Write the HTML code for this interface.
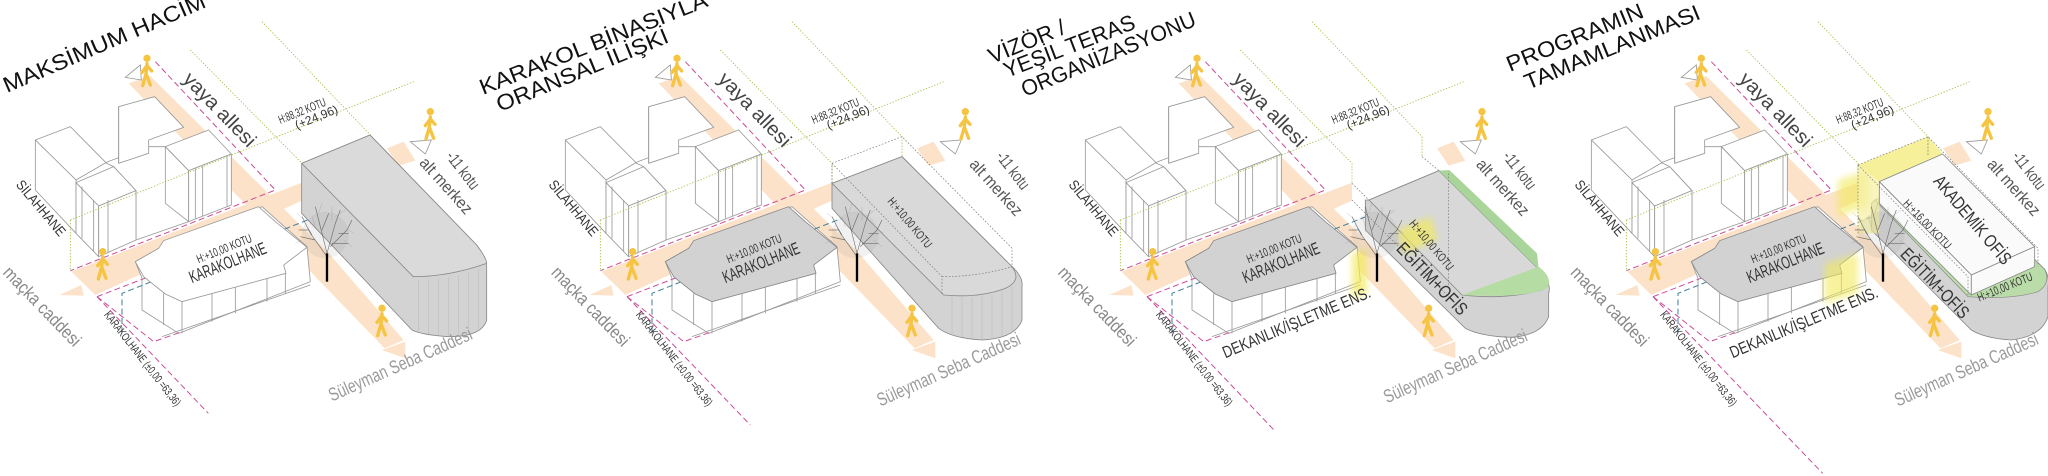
<!DOCTYPE html>
<html><head><meta charset="utf-8"><style>
html,body{margin:0;padding:0;background:#fff;}
svg{display:block;}
text{font-family:"Liberation Sans",sans-serif;}
</style></head><body>
<svg width="2048" height="476" viewBox="0 0 2048 476" xmlns="http://www.w3.org/2000/svg">
<defs>
<filter id="blur" x="-50%" y="-50%" width="200%" height="200%"><feGaussianBlur stdDeviation="10"/></filter>
<g id="ped" stroke="#f5c443" stroke-width="10" stroke-linecap="round" fill="none">
  <circle cx="0" cy="10" r="11" fill="#f5c443" stroke="none"/>
  <path d="M0,26 L-3,56 M-3,56 L-13,92 M-3,56 L10,90 M0,32 L-15,52 M0,32 L14,48"/>
</g>
<g id="tree">
  <circle cx="1030" cy="705" r="70" fill="#888" opacity="0.12"/>
  <g stroke="#444" stroke-width="2" fill="none" opacity="0.7">
    <path d="M1035,770 L985,700 L960,650 M1000,720 L955,710 M1035,760 L1010,660 L1000,620 M1035,760 L1060,670 L1075,630 M1045,740 L1095,690 L1110,660 M1050,730 L1100,730 M990,705 L975,680 M1020,690 L1040,640 M1070,700 L1100,700 M980,690 L950,690"/>
  </g>
  <g stroke="#777" stroke-width="1.2" fill="none" opacity="0.5">
    <path d="M970,660 L945,640 M1010,640 L1020,610 M1060,650 L1090,630 M1100,690 L1115,700 M960,720 L940,730 M1085,720 L1110,740 M1000,680 L990,650 M1050,660 L1050,620"/>
  </g>
  <path d="M1035,845 L1035,760" stroke="#000" stroke-width="7"/>
</g>
<g id="base">
  <!-- peach bands -->
  <g fill="#fce2c9">
    <polygon points="440,250 505,228 1045,765 1265,1020 1208,1045"/>
    <polygon points="268,815 960,548 960,602 340,885"/>
    <polygon points="1215,445 1265,425 1300,482 1250,497"/>
    <polygon points="232,885 298,855 305,887"/>
    <polygon points="1200,1050 1270,1025 1270,1075"/>
  </g>
  <polygon points="430,232 475,195 478,240" fill="#fff" stroke="#999" stroke-width="2.5"/>
  <polygon points="1285,425 1348,420 1330,462" fill="#fff" stroke="#999" stroke-width="2.5"/>
  <!-- silahhane complex -->
  <g fill="#fff" stroke="#999" stroke-width="2.5" stroke-linejoin="round">
    <polygon points="370,488 498,440 550,440 620,512 620,665 462,720 462,572 395,500"/>
    <polygon points="410,320 518,290 605,382 500,420 500,460 410,490"/>
    <polygon points="160,420 265,380 372,488 282,540"/>
    <polygon points="160,420 282,540 282,700 160,570"/>
    <polygon points="282,548 395,500 462,572 350,618"/>
    <polygon points="282,548 350,618 350,770 282,700"/>
    <polygon points="350,618 462,572 462,720 350,770"/>
    <polygon points="550,440 680,390 748,462 620,512"/>
    <polygon points="550,440 620,512 620,665 550,610"/>
    <polygon points="620,512 748,462 748,615 620,665"/>
    <path d="M300,560 L300,715 M335,600 L335,755 M378,600 L378,760 M640,505 L640,655 M662,498 L662,648 M735,468 L735,620 M410,490 L410,320" fill="none"/>
  </g>
  <!-- karakolhane body -->
  <g fill="#fff" stroke="#999" stroke-width="2.5" stroke-linejoin="round">
    <polygon points="460,785 530,745 840,620 975,740 985,845 590,1000 480,930 480,835"/>
    <path d="M545,880 L545,975 M600,905 L600,1000 M690,875 L690,965 M760,848 L760,940 M855,812 L855,905 M910,820 L910,880 M540,1010 L985,855" fill="none"/>
  </g>
  <!-- dashed lines -->
  <g fill="none" stroke="#c94d96" stroke-width="3" stroke-dasharray="18,10">
    <path d="M520,185 L880,570 L265,812"/>
    <path d="M345,890 L540,815 M345,890 L515,1025 L600,995"/>
  </g>
  <path d="M420,1000 L420,880 L1040,635" fill="none" stroke="#3f7f9c" stroke-width="3" stroke-dasharray="18,10"/>
  <g fill="none" stroke="#9cc03f" stroke-width="2.5" stroke-dasharray="4,5">
    <path d="M625,150 L960,490 L960,550 M840,65 L1170,410 L1170,470 M265,660 L1295,245 M265,660 L265,810"/>
  </g>
</g>
</defs>

<!-- Titles -->
<g fill="#111" font-size="22">
  <text transform="translate(7,93) rotate(-23.3)" textLength="218" lengthAdjust="spacingAndGlyphs">MAKSİMUM HACİM</text>
  <text transform="translate(483,95) rotate(-21.5)" textLength="243" lengthAdjust="spacingAndGlyphs">KARAKOL BİNASIYLA</text>
  <text transform="translate(500,112) rotate(-22.4)" textLength="184" lengthAdjust="spacingAndGlyphs">ORANSAL İLİŞKİ</text>
  <text transform="translate(992,64) rotate(-22.5)" textLength="81" lengthAdjust="spacingAndGlyphs">VİZÖR /</text>
  <text transform="translate(1007,78) rotate(-21)" textLength="139" lengthAdjust="spacingAndGlyphs">YEŞİL TERAS</text>
  <text transform="translate(1025,97) rotate(-22.6)" textLength="187" lengthAdjust="spacingAndGlyphs">ORGANİZASYONU</text>
  <text transform="translate(1510,72) rotate(-22.2)" textLength="146" lengthAdjust="spacingAndGlyphs">PROGRAMIN</text>
  <text transform="translate(1528,90) rotate(-22.4)" textLength="188" lengthAdjust="spacingAndGlyphs">TAMAMLANMASI</text>
</g>

<!-- PANEL 1 -->
<g transform="translate(-18,0) scale(0.33333)">
  <use href="#base"/>
  <polygon points="460,785 530,745 545,722 830,620 880,665 975,742 905,795 912,820 600,905 550,882 485,830" fill="#fff" stroke="#999" stroke-width="2.5"/>
  <path d="M345,890 L679,1240" fill="none" stroke="#c94d96" stroke-width="3" stroke-dasharray="18,10"/>
  <path d="M959,490 L1164,405 L1484,735 Q1514,775 1514,800 L1514,960 Q1500,1010 1400,1010 Q1320,1005 1290,990 L959,640 Z" fill="#d3d3d3" stroke="#888" stroke-width="2.5"/>
  <path d="M959,490 L1164,405 L1484,735 Q1514,775 1514,790 Q1400,830 1294,830 Z" fill="#dadada" stroke="#888" stroke-width="2.5"/>
  <g stroke="#bbb" stroke-width="1.5"><path d="M1310,840 L1310,995 M1340,838 L1340,1002 M1370,836 L1370,1006 M1400,832 L1400,1008 M1430,826 L1430,1006 M1460,818 L1460,1000 M1490,806 L1490,985"/></g>
  <use href="#tree"/>
  <use href="#ped" x="495" y="165"/><use href="#ped" x="362" y="745"/><use href="#ped" x="1200" y="915"/><use href="#ped" x="1345" y="325"/>
  <g fill="#333">
    <text transform="translate(600,240) rotate(46)" font-size="60" fill="#444" textLength="285" lengthAdjust="spacingAndGlyphs">yaya allesi</text>
    <text transform="translate(895,372) rotate(-22)" font-size="36" textLength="150" lengthAdjust="spacingAndGlyphs">H:88,32 KOTU</text>
    <text transform="translate(945,388) rotate(-22)" font-size="36">(+24,96)</text>
    <text transform="translate(100,555) rotate(50)" font-size="42" textLength="205" lengthAdjust="spacingAndGlyphs">SİLAHHANE</text>
    <text transform="translate(60,820) rotate(46)" font-size="54" fill="#888" textLength="310" lengthAdjust="spacingAndGlyphs">maçka caddesi</text>
    <text transform="translate(650,790) rotate(-22)" font-size="36" textLength="175" lengthAdjust="spacingAndGlyphs">H:+10,00 KOTU</text>
    <text transform="translate(630,850) rotate(-22)" font-size="52" textLength="245" lengthAdjust="spacingAndGlyphs">KARAKOLHANE</text>
    <text transform="translate(365,945) rotate(52)" font-size="34" textLength="350" lengthAdjust="spacingAndGlyphs">KARAKOLHANE (±0,00 =63,36)</text>
    <text transform="translate(1050,1205) rotate(-24)" font-size="56" fill="#9a9a9a" textLength="465" lengthAdjust="spacingAndGlyphs">Süleyman Seba Caddesi</text>
    <text transform="translate(1390,470) rotate(52)" font-size="50" fill="#555" textLength="130" lengthAdjust="spacingAndGlyphs">-11 kotu</text>
    <text transform="translate(1310,490) rotate(48)" font-size="50" fill="#555" textLength="210" lengthAdjust="spacingAndGlyphs">alt merkez</text>
  </g>
</g>

<!-- PANEL 2 -->
<g transform="translate(512,0) scale(0.33333)">
  <use href="#base"/>
  <polygon points="460,785 530,745 545,722 830,620 880,665 975,742 905,795 912,820 600,905 550,882 485,830" fill="#d2d2d2" stroke="#888" stroke-width="2.5"/>
  <path d="M345,890 L715,1275" fill="none" stroke="#c94d96" stroke-width="3" stroke-dasharray="18,10"/>
  <path d="M960,550 L1170,470 L1495,795 Q1535,830 1530,860 L1530,960 Q1510,1015 1410,1020 Q1320,1015 1280,985 L960,625 Z" fill="#d3d3d3" stroke="#888" stroke-width="2.5"/>
  <path d="M960,550 L1170,470 L1495,795 Q1535,840 1480,865 Q1400,895 1295,885 Z" fill="#d9d9d9" stroke="#888" stroke-width="2.5"/>
  <g stroke="#bbb" stroke-width="1.5"><path d="M1320,890 L1320,1005 M1350,892 L1350,1012 M1380,892 L1380,1016 M1410,890 L1410,1018 M1440,885 L1440,1016 M1470,875 L1470,1010 M1500,860 L1500,1000"/></g>
  <g fill="none" stroke="#777" stroke-width="2" stroke-dasharray="5,5">
    <path d="M960,550 L960,490 L1170,410 L1500,745 L1500,800 M960,490 L1290,830 L1290,885 M1290,830 Q1400,830 1500,800"/>
  </g>
  <use href="#tree"/>
  <use href="#ped" x="495" y="165"/><use href="#ped" x="362" y="745"/><use href="#ped" x="1200" y="915"/><use href="#ped" x="1360" y="325"/>
  <g fill="#333">
    <text transform="translate(1125,605) rotate(50)" font-size="36" textLength="185" lengthAdjust="spacingAndGlyphs">H:+10,00 KOTU</text>
    <text transform="translate(615,240) rotate(46)" font-size="60" fill="#444" textLength="285" lengthAdjust="spacingAndGlyphs">yaya allesi</text>
    <text transform="translate(905,372) rotate(-22)" font-size="36" textLength="150" lengthAdjust="spacingAndGlyphs">H:88,32 KOTU</text>
    <text transform="translate(950,388) rotate(-22)" font-size="36">(+24,96)</text>
    <text transform="translate(108,555) rotate(50)" font-size="42" textLength="205" lengthAdjust="spacingAndGlyphs">SİLAHHANE</text>
    <text transform="translate(115,820) rotate(46)" font-size="54" fill="#888" textLength="310" lengthAdjust="spacingAndGlyphs">maçka caddesi</text>
    <text transform="translate(650,790) rotate(-22)" font-size="36" textLength="175" lengthAdjust="spacingAndGlyphs">H:+10,00 KOTU</text>
    <text transform="translate(640,850) rotate(-22)" font-size="52" textLength="245" lengthAdjust="spacingAndGlyphs">KARAKOLHANE</text>
    <text transform="translate(370,945) rotate(52)" font-size="34" textLength="350" lengthAdjust="spacingAndGlyphs">KARAKOLHANE (±0,00 =63,36)</text>
    <text transform="translate(1105,1220) rotate(-24)" font-size="56" fill="#9a9a9a" textLength="465" lengthAdjust="spacingAndGlyphs">Süleyman Seba Caddesi</text>
    <text transform="translate(1450,470) rotate(52)" font-size="50" fill="#555" textLength="130" lengthAdjust="spacingAndGlyphs">-11 kotu</text>
    <text transform="translate(1370,495) rotate(48)" font-size="50" fill="#555" textLength="210" lengthAdjust="spacingAndGlyphs">alt merkez</text>
  </g>
</g>

<!-- PANEL 3 -->
<g transform="translate(1032,0) scale(0.33333)">
  <use href="#base"/>
  <polygon points="460,785 530,745 545,722 830,620 880,665 975,742 905,795 912,820 600,905 550,882 485,830" fill="#d2d2d2" stroke="#888" stroke-width="2.5"/>
  <path d="M345,890 L726,1290" fill="none" stroke="#c94d96" stroke-width="3" stroke-dasharray="18,10"/>
  <path d="M1011,600 L1221,512 L1520,808 Q1560,850 1550,880 L1550,950 Q1530,1005 1440,1012 Q1350,1010 1300,985 L1000,690 L1000,600 Z" fill="#d3d3d3" stroke="#888" stroke-width="2.5"/>
  <path d="M1011,600 L1221,512 L1520,808 Q1560,850 1530,870 Q1420,900 1290,885 Z" fill="#d8d8d8" stroke="#888" stroke-width="2.5"/>
  <polygon points="1221,512 1252,510 1515,760 1520,808" fill="#a9d59a"/>
  <path d="M1290,885 L1520,800 Q1565,835 1545,865 Q1480,895 1290,885 Z" fill="#b5dca3"/>
  <g fill="none" stroke="#777" stroke-width="2" stroke-dasharray="5,5">
    <path d="M960,550 L1011,600 M1170,470 L1221,512 M1250,520 L1250,870 M960,600 L1290,930"/>
  </g>
  <g filter="url(#blur)" fill="#f2ea5a" opacity="0.7">
    <polygon points="1096,690 1196,650 1216,720 1116,760"/>
    <polygon points="960,760 1005,745 1005,880 960,895"/>
  </g>
  <use href="#tree"/>
  <use href="#ped" x="495" y="165"/><use href="#ped" x="362" y="745"/><use href="#ped" x="1190" y="915"/><use href="#ped" x="1350" y="325"/>
  <g fill="#333">
    <text transform="translate(1130,672) rotate(50)" font-size="36" textLength="185" lengthAdjust="spacingAndGlyphs">H:+10,00 KOTU</text>
    <text transform="translate(1090,748) rotate(46)" font-size="54" textLength="280" lengthAdjust="spacingAndGlyphs">EĞİTİM+OFİS</text>
    <text transform="translate(580,1075) rotate(-22.8)" font-size="50" textLength="477" lengthAdjust="spacingAndGlyphs">DEKANLIK/İŞLETME ENS.</text>
    <text transform="translate(600,240) rotate(46)" font-size="60" fill="#444" textLength="285" lengthAdjust="spacingAndGlyphs">yaya allesi</text>
    <text transform="translate(905,372) rotate(-22)" font-size="36" textLength="150" lengthAdjust="spacingAndGlyphs">H:88,32 KOTU</text>
    <text transform="translate(950,388) rotate(-22)" font-size="36">(+24,96)</text>
    <text transform="translate(108,555) rotate(50)" font-size="42" textLength="205" lengthAdjust="spacingAndGlyphs">SİLAHHANE</text>
    <text transform="translate(75,820) rotate(46)" font-size="54" fill="#888" textLength="310" lengthAdjust="spacingAndGlyphs">maçka caddesi</text>
    <text transform="translate(650,790) rotate(-22)" font-size="36" textLength="175" lengthAdjust="spacingAndGlyphs">H:+10,00 KOTU</text>
    <text transform="translate(640,850) rotate(-22)" font-size="52" textLength="245" lengthAdjust="spacingAndGlyphs">KARAKOLHANE</text>
    <text transform="translate(370,945) rotate(52)" font-size="34" textLength="350" lengthAdjust="spacingAndGlyphs">KARAKOLHANE (±0,00 =63,36)</text>
    <text transform="translate(1065,1210) rotate(-24)" font-size="56" fill="#9a9a9a" textLength="465" lengthAdjust="spacingAndGlyphs">Süleyman Seba Caddesi</text>
    <text transform="translate(1410,470) rotate(52)" font-size="50" fill="#555" textLength="130" lengthAdjust="spacingAndGlyphs">-11 kotu</text>
    <text transform="translate(1330,495) rotate(48)" font-size="50" fill="#555" textLength="210" lengthAdjust="spacingAndGlyphs">alt merkez</text>
  </g>
</g>

<!-- PANEL 4 -->
<g transform="translate(1538,0) scale(0.33333)">
  <use href="#base"/>
  <polygon points="460,785 530,745 545,722 830,620 880,665 975,742 905,795 912,820 600,905 550,882 485,830" fill="#d2d2d2" stroke="#888" stroke-width="2.5"/>
  <path d="M345,890 L854,1420" fill="none" stroke="#c94d96" stroke-width="3" stroke-dasharray="18,10"/>
  <g filter="url(#blur)" fill="#f2ea5a" opacity="0.6">
    <polygon points="860,790 960,760 960,880 860,910"/>
    <polygon points="900,540 990,510 990,620 900,650"/>
  </g>
  <path d="M1010,600 L1220,512 L1520,808 Q1535,830 1530,860 L1530,950 Q1510,1010 1420,1020 Q1340,1015 1300,990 L1000,690 L1000,610 Z" fill="#d3d3d3" stroke="#888" stroke-width="2.5"/>
  <path d="M1010,600 L1220,512 L1520,808 Q1540,850 1500,875 Q1420,900 1290,890 Z" fill="#b9dca8" stroke="#888" stroke-width="2"/>
  <polygon points="960,495 1170,410 1215,462 1024,545" fill="#f3ec80" opacity="0.8"/>
  <polygon points="960,495 1024,545 1024,700 960,700" fill="#f5f0a0" opacity="0.7"/>
  <g fill="#fafafa" stroke="#888" stroke-width="2.5" stroke-linejoin="round">
    <polygon points="1024,545 1214,462 1490,740 1300,825"/>
    <polygon points="1024,545 1300,825 1300,885 1024,610"/>
    <polygon points="1300,825 1490,740 1490,800 1300,885"/>
  </g>
  <g fill="none" stroke="#777" stroke-width="2" stroke-dasharray="5,5">
    <path d="M960,495 L1170,410 L1500,745 L1500,800 M960,495 L960,700 M960,495 L1290,830 L1290,890 M1170,410 L1170,470"/>
  </g>
  <use href="#tree"/>
  <use href="#ped" x="490" y="165"/><use href="#ped" x="352" y="745"/><use href="#ped" x="1190" y="915"/><use href="#ped" x="1350" y="325"/>
  <g fill="#333">
    <text transform="translate(1184,545) rotate(50)" font-size="54" textLength="330" lengthAdjust="spacingAndGlyphs">AKADEMİK OFİS</text>
    <text transform="translate(1094,612) rotate(46)" font-size="34" textLength="190" lengthAdjust="spacingAndGlyphs">H:+16,00 KOTU</text>
    <text transform="translate(1084,765) rotate(46)" font-size="54" textLength="270" lengthAdjust="spacingAndGlyphs">EĞİTİM+OFİS</text>
    <text transform="translate(1324,905) rotate(-22)" font-size="36" textLength="175" lengthAdjust="spacingAndGlyphs">H:+10,00 KOTU</text>
    <text transform="translate(584,1075) rotate(-22.8)" font-size="50" textLength="477" lengthAdjust="spacingAndGlyphs">DEKANLIK/İŞLETME ENS.</text>
    <text transform="translate(600,240) rotate(46)" font-size="60" fill="#444" textLength="285" lengthAdjust="spacingAndGlyphs">yaya allesi</text>
    <text transform="translate(900,372) rotate(-22)" font-size="36" textLength="150" lengthAdjust="spacingAndGlyphs">H:88,32 KOTU</text>
    <text transform="translate(945,388) rotate(-22)" font-size="36">(+24,96)</text>
    <text transform="translate(108,555) rotate(50)" font-size="42" textLength="205" lengthAdjust="spacingAndGlyphs">SİLAHHANE</text>
    <text transform="translate(95,820) rotate(46)" font-size="54" fill="#888" textLength="310" lengthAdjust="spacingAndGlyphs">maçka caddesi</text>
    <text transform="translate(645,790) rotate(-22)" font-size="36" textLength="175" lengthAdjust="spacingAndGlyphs">H:+10,00 KOTU</text>
    <text transform="translate(635,850) rotate(-22)" font-size="52" textLength="245" lengthAdjust="spacingAndGlyphs">KARAKOLHANE</text>
    <text transform="translate(365,945) rotate(52)" font-size="34" textLength="350" lengthAdjust="spacingAndGlyphs">KARAKOLHANE (±0,00 =63,36)</text>
    <text transform="translate(1080,1220) rotate(-24)" font-size="56" fill="#9a9a9a" textLength="465" lengthAdjust="spacingAndGlyphs">Süleyman Seba Caddesi</text>
    <text transform="translate(1420,470) rotate(52)" font-size="50" fill="#555" textLength="130" lengthAdjust="spacingAndGlyphs">-11 kotu</text>
    <text transform="translate(1345,495) rotate(48)" font-size="50" fill="#555" textLength="210" lengthAdjust="spacingAndGlyphs">alt merkez</text>
  </g>
</g>
</svg>
</body></html>
